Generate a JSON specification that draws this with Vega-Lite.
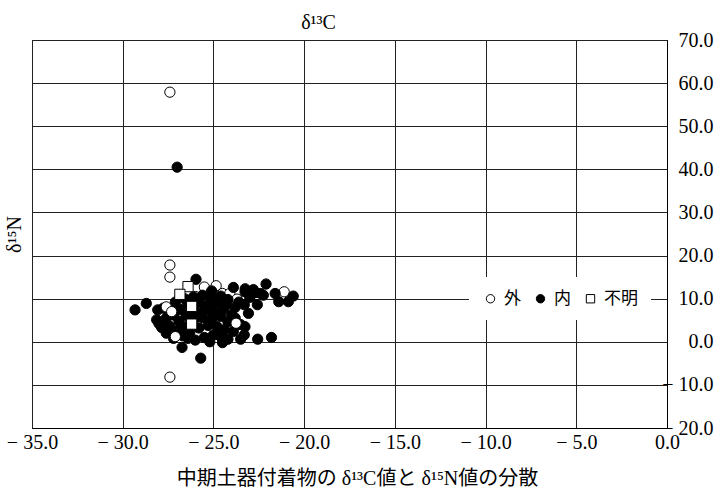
{
 "$schema": "https://vega.github.io/schema/vega-lite/v6.json",
 "width": 635,
 "height": 388,
 "autosize": "none",
 "padding": {"left": 32, "top": 40, "right": 54, "bottom": 66},
 "background": "white",
 "config": {"view": {"stroke": "black", "strokeWidth": 1}, "font": "Liberation Serif"},
 "title": {"text": "δ¹³C", "font": "Liberation Serif", "fontSize": 20, "fontWeight": "normal", "anchor": "middle", "dx": -31, "offset": -3, "color": "black"},
 "data": {"values": [
  {"c": -24.85, "n": 13.0, "t": "外"},
  {"c": -24.5, "n": 11.2, "t": "外"},
  {"c": -25.5, "n": 12.7, "t": "外"},
  {"c": -24.1, "n": 11.2, "t": "外"},
  {"c": -23.7, "n": 9.9, "t": "外"},
  {"c": -21.1, "n": 11.6, "t": "外"},
  {"c": -26.0, "n": 10.5, "t": "外"},
  {"c": -25.0, "n": 6.0, "t": "外"},
  {"c": -27.0, "n": 40.5, "t": "内"},
  {"c": -25.96, "n": 14.5, "t": "内"},
  {"c": -25.1, "n": 11.8, "t": "内"},
  {"c": -23.9, "n": 12.6, "t": "内"},
  {"c": -23.25, "n": 12.3, "t": "内"},
  {"c": -22.8, "n": 12.1, "t": "内"},
  {"c": -23.26, "n": 11.6, "t": "内"},
  {"c": -22.7, "n": 11.4, "t": "内"},
  {"c": -22.1, "n": 13.4, "t": "内"},
  {"c": -22.25, "n": 10.8, "t": "内"},
  {"c": -22.58, "n": 8.6, "t": "内"},
  {"c": -21.6, "n": 11.2, "t": "内"},
  {"c": -20.6, "n": 10.6, "t": "内"},
  {"c": -20.87, "n": 9.3, "t": "内"},
  {"c": -21.4, "n": 9.3, "t": "内"},
  {"c": -22.9, "n": 11.0, "t": "内"},
  {"c": -23.0, "n": 10.3, "t": "内"},
  {"c": -22.4, "n": 11.2, "t": "内"},
  {"c": -29.32, "n": 7.4, "t": "内"},
  {"c": -28.7, "n": 8.9, "t": "内"},
  {"c": -28.07, "n": 7.4, "t": "内"},
  {"c": -27.76, "n": 7.8, "t": "内"},
  {"c": -28.13, "n": 5.1, "t": "内"},
  {"c": -27.85, "n": 3.3, "t": "内"},
  {"c": -28.0, "n": 4.2, "t": "内"},
  {"c": -27.6, "n": 5.5, "t": "内"},
  {"c": -27.4, "n": 3.6, "t": "内"},
  {"c": -27.6, "n": 2.0, "t": "内"},
  {"c": -27.1, "n": 9.2, "t": "内"},
  {"c": -26.6, "n": 10.0, "t": "内"},
  {"c": -26.1, "n": 10.4, "t": "内"},
  {"c": -25.6, "n": 10.8, "t": "内"},
  {"c": -25.1, "n": 10.2, "t": "内"},
  {"c": -24.6, "n": 10.6, "t": "内"},
  {"c": -24.2, "n": 9.8, "t": "内"},
  {"c": -27.2, "n": 6.2, "t": "内"},
  {"c": -26.8, "n": 7.5, "t": "内"},
  {"c": -26.4, "n": 8.9, "t": "内"},
  {"c": -25.8, "n": 9.0, "t": "内"},
  {"c": -25.3, "n": 8.7, "t": "内"},
  {"c": -24.8, "n": 9.2, "t": "内"},
  {"c": -24.3, "n": 8.5, "t": "内"},
  {"c": -23.8, "n": 8.0, "t": "内"},
  {"c": -26.9, "n": 4.8, "t": "内"},
  {"c": -26.5, "n": 6.1, "t": "内"},
  {"c": -26.0, "n": 6.8, "t": "内"},
  {"c": -25.5, "n": 7.2, "t": "内"},
  {"c": -25.0, "n": 7.0, "t": "内"},
  {"c": -24.5, "n": 7.5, "t": "内"},
  {"c": -24.0, "n": 6.3, "t": "内"},
  {"c": -27.0, "n": 2.6, "t": "内"},
  {"c": -26.6, "n": 3.5, "t": "内"},
  {"c": -26.1, "n": 5.0, "t": "内"},
  {"c": -25.6, "n": 5.6, "t": "内"},
  {"c": -25.1, "n": 5.3, "t": "内"},
  {"c": -24.6, "n": 5.9, "t": "内"},
  {"c": -24.2, "n": 4.6, "t": "内"},
  {"c": -26.7, "n": 1.4, "t": "内"},
  {"c": -26.3, "n": 2.2, "t": "内"},
  {"c": -25.8, "n": 3.2, "t": "内"},
  {"c": -25.3, "n": 3.8, "t": "内"},
  {"c": -24.8, "n": 3.5, "t": "内"},
  {"c": -24.4, "n": 2.8, "t": "内"},
  {"c": -23.9, "n": 2.4, "t": "内"},
  {"c": -26.0, "n": 0.4, "t": "内"},
  {"c": -25.5, "n": 1.0, "t": "内"},
  {"c": -25.0, "n": 1.6, "t": "内"},
  {"c": -24.6, "n": 1.2, "t": "内"},
  {"c": -24.2, "n": 0.6, "t": "内"},
  {"c": -25.2, "n": 0.0, "t": "内"},
  {"c": -24.5, "n": -0.2, "t": "内"},
  {"c": -26.4, "n": 0.8, "t": "内"},
  {"c": -27.2, "n": 0.8, "t": "内"},
  {"c": -23.8, "n": 5.5, "t": "内"},
  {"c": -23.5, "n": 4.0, "t": "内"},
  {"c": -23.26, "n": 3.5, "t": "内"},
  {"c": -23.07, "n": 6.6, "t": "内"},
  {"c": -23.5, "n": 0.6, "t": "内"},
  {"c": -22.56, "n": 0.6, "t": "内"},
  {"c": -21.8, "n": 1.0, "t": "内"},
  {"c": -23.3, "n": 1.6, "t": "内"},
  {"c": -23.6, "n": 9.2, "t": "内"},
  {"c": -23.3, "n": 8.6, "t": "内"},
  {"c": -25.7, "n": -3.8, "t": "内"},
  {"c": -26.73, "n": -1.3, "t": "内"},
  {"c": -27.4, "n": 57.9, "t": "外"},
  {"c": -27.4, "n": -8.2, "t": "外"},
  {"c": -27.4, "n": 17.8, "t": "外"},
  {"c": -27.4, "n": 15.0, "t": "外"},
  {"c": -23.75, "n": 4.3, "t": "外"},
  {"c": -27.6, "n": 8.1, "t": "外"},
  {"c": -27.3, "n": 7.0, "t": "外"},
  {"c": -27.1, "n": 1.2, "t": "外"},
  {"c": -26.4, "n": 12.8, "t": "不明"},
  {"c": -26.85, "n": 11.0, "t": "不明"},
  {"c": -26.2, "n": 8.2, "t": "不明"},
  {"c": -26.2, "n": 4.1, "t": "不明"}
 ]},
 "mark": {"type": "point", "strokeWidth": 1, "opacity": 1, "size": 105},
 "encoding": {
  "x": {"field": "c", "type": "quantitative",
   "scale": {"domain": [-35, 0], "nice": false, "zero": false},
   "axis": {"values": [-35, -30, -25, -20, -15, -10, -5, 0], "grid": true, "gridColor": "#222", "gridWidth": 1, "ticks": false, "tickSize": 0, "domain": true, "domainColor": "black",
    "labelExpr": "datum.value < 0 ? '− ' + format(-datum.value, '.1f') : format(datum.value, '.1f')",
    "labelFont": "Liberation Serif", "labelFontSize": 20, "labelColor": "black", "labelPadding": 4, "labelFlush": false, "labelOverlap": false,
    "title": "中期土器付着物の δ¹³C値と δ¹⁵N値の分散", "titleFont": "Liberation Serif, Noto Sans CJK JP", "titleFontSize": 20, "titleFontWeight": "normal", "titleColor": "black", "titlePadding": 16, "titleX": 325}},
  "y": {"field": "n", "type": "quantitative",
   "scale": {"domain": [-20, 70], "nice": false, "zero": false},
   "axis": {"orient": "right", "values": [-20, -10, 0, 10, 20, 30, 40, 50, 60, 70], "grid": true, "gridColor": "#222", "gridWidth": 1, "ticks": false, "tickSize": 0, "domain": true, "domainColor": "black",
    "labelExpr": "datum.value < 0 ? '− ' + format(-datum.value, '.1f') : format(datum.value, '.1f')",
    "labelFont": "Liberation Serif", "labelFontSize": 20, "labelColor": "black", "labelAlign": "right", "labelBaseline": "middle", "labelPadding": 46, "labelFlush": false, "labelOverlap": false,
    "title": "δ¹⁵N", "titleFont": "Liberation Serif", "titleFontSize": 20, "titleFontWeight": "normal", "titleColor": "black", "titleAngle": 270, "titleX": -653, "titleY": 194, "titleAlign": "center", "titleBaseline": "middle"}},
  "shape": {"field": "t", "type": "nominal",
   "scale": {"domain": ["外", "内", "不明"], "range": ["circle", "circle", "square"]},
   "legend": {"title": null, "orient": "none", "legendX": 437, "legendY": 237, "direction": "horizontal", "fillColor": "white", "padding": 13, "labelFont": "Noto Sans CJK JP", "labelFontSize": 17, "labelColor": "black", "symbolSize": 70, "symbolStrokeWidth": 1, "columnPadding": 11, "labelOffset": 5}},
  "fill": {"field": "t", "type": "nominal",
   "scale": {"domain": ["外", "内", "不明"], "range": ["white", "black", "white"]},
   "legend": {"title": null, "orient": "none", "legendX": 437, "legendY": 237, "direction": "horizontal", "fillColor": "white", "padding": 13, "labelFont": "Noto Sans CJK JP", "labelFontSize": 17, "labelColor": "black", "symbolSize": 70, "symbolStrokeWidth": 1, "columnPadding": 11, "labelOffset": 5}},
  "stroke": {"field": "t", "type": "nominal",
   "scale": {"domain": ["外", "内", "不明"], "range": ["black", "black", "black"]},
   "legend": {"title": null, "orient": "none", "legendX": 437, "legendY": 237, "direction": "horizontal", "fillColor": "white", "padding": 13, "labelFont": "Noto Sans CJK JP", "labelFontSize": 17, "labelColor": "black", "symbolSize": 70, "symbolStrokeWidth": 1, "columnPadding": 11, "labelOffset": 5}}
 }
}
